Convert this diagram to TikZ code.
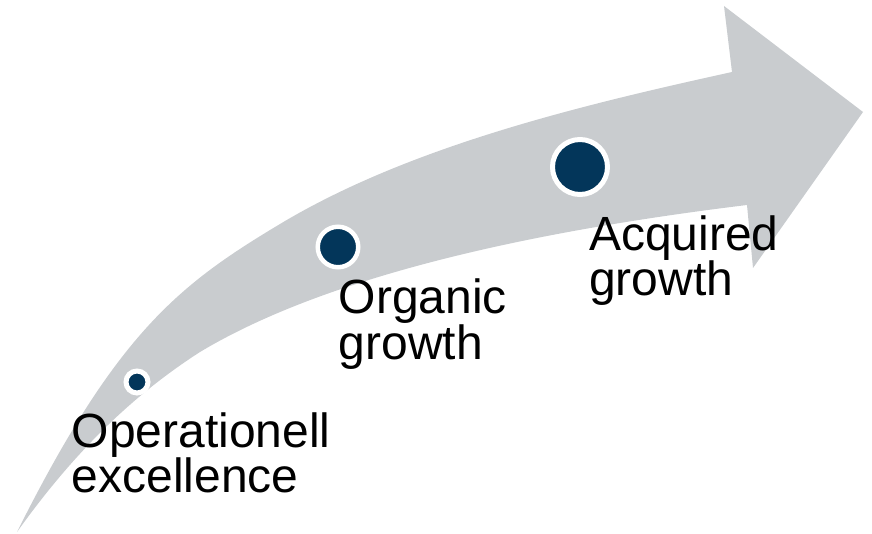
\documentclass[tikz,border=0pt]{standalone}
\usepackage{fontspec}
\setmainfont{Liberation Sans}
\usetikzlibrary{positioning}
\definecolor{grarrow}{RGB}{201,204,207}
\definecolor{grnavy}{RGB}{3,54,90}

\begin{document}
\begin{tikzpicture}[x=1pt, y=-1pt,
  dot/.style={circle, fill=grnavy, draw=white, inner sep=0pt},
  stage/.style={anchor=base west, inner sep=0pt, align=left,
    font=\fontsize{48}{45}\selectfont}]
\useasboundingbox (0,0) rectangle (872,534);
% Arrow
\fill[grarrow] (17,532) .. controls (117,332) and (180,284) .. (280,224)
  .. controls (410,146) and (582,105) .. (732,72)
  -- (724,6) -- (863,112) -- (753,268) -- (747,205)
  .. controls (567,227) and (340,268) .. (200,352)
  .. controls (130,397) and (72,455) .. cycle;
% Stages
\node[dot, minimum size=22pt, line width=5pt] (opx) at (137,382) {};
\node[dot, minimum size=40.5pt, line width=4.5pt] (org) at (338,247) {};
\node[dot, minimum size=55pt, line width=5pt] (acq) at (580,167) {};
% Labels
\node[stage] (opxtext) at (71.5,492) {Operationell\\excellence};
\node[stage] (orgtext) at (338.5,359) {Organic\\growth};
\node[stage] (acqtext) at (589,296) {Acquired\\growth};
\end{tikzpicture}
\end{document}
